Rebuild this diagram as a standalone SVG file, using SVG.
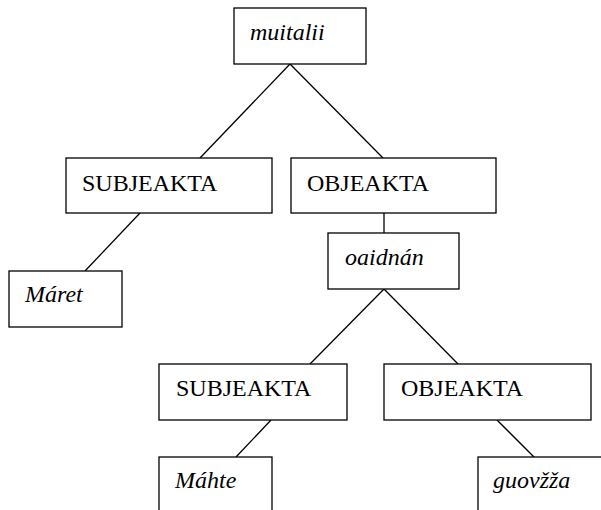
<svg xmlns="http://www.w3.org/2000/svg" width="601" height="510" viewBox="0 0 601 510">
<style>
.box{fill:#fff;stroke:#000;stroke-width:1.3}
.c line{stroke:#000;stroke-width:1.3}
</style>
<rect width="601" height="510" fill="#fff"/>
<g class="c" id="connectors">
<line x1="290" y1="64" x2="200" y2="158"/>
<line x1="290" y1="64" x2="383" y2="158"/>
<line x1="140" y1="213" x2="85" y2="271"/>
<line x1="384" y1="213" x2="384" y2="233"/>
<line x1="384" y1="289" x2="310" y2="364"/>
<line x1="384" y1="289" x2="458" y2="364"/>
<line x1="271" y1="420" x2="236" y2="457"/>
<line x1="497" y1="420" x2="534" y2="457"/>
</g>
<g id="nodes">
<g id="subj1"><rect class="box" x="66" y="158" width="206" height="55"/><text font-family="Liberation Serif" font-size="24" x="82" y="191">SUBJEAKTA</text></g>
<g id="obj1"><rect class="box" x="291" y="158" width="205" height="55"/><text font-family="Liberation Serif" font-size="24" x="307" y="191">OBJEAKTA</text></g>
<g id="subj2"><rect class="box" x="159" y="364" width="188" height="56"/><text font-family="Liberation Serif" font-size="24" x="176" y="396">SUBJEAKTA</text></g>
<g id="obj2"><rect class="box" x="384" y="364" width="207" height="56"/><text font-family="Liberation Serif" font-size="24" x="401" y="396">OBJEAKTA</text></g>
<g id="muitalii"><rect class="box" x="234" y="8" width="132" height="56"/><text font-family="Liberation Serif" font-size="24" font-style="italic" x="250" y="40">muitalii</text></g>
<g id="maret"><rect class="box" x="9" y="271" width="113" height="56"/><text font-family="Liberation Serif" font-size="24" font-style="italic" x="25" y="302">M&#225;ret</text></g>
<g id="oaidnan"><rect class="box" x="328" y="233" width="131" height="56"/><text font-family="Liberation Serif" font-size="24" font-style="italic" x="345" y="265">oaidn&#225;n</text></g>
<g id="mahte"><rect class="box" x="159" y="457" width="113" height="60"/><text font-family="Liberation Serif" font-size="24" font-style="italic" x="175" y="488">M&#225;hte</text></g>
<g id="guovzza"><rect class="box" x="478" y="457" width="140" height="60"/><text font-family="Liberation Serif" font-size="24" font-style="italic" x="493" y="488">guov&#382;&#382;a</text></g>
</g>
</svg>
